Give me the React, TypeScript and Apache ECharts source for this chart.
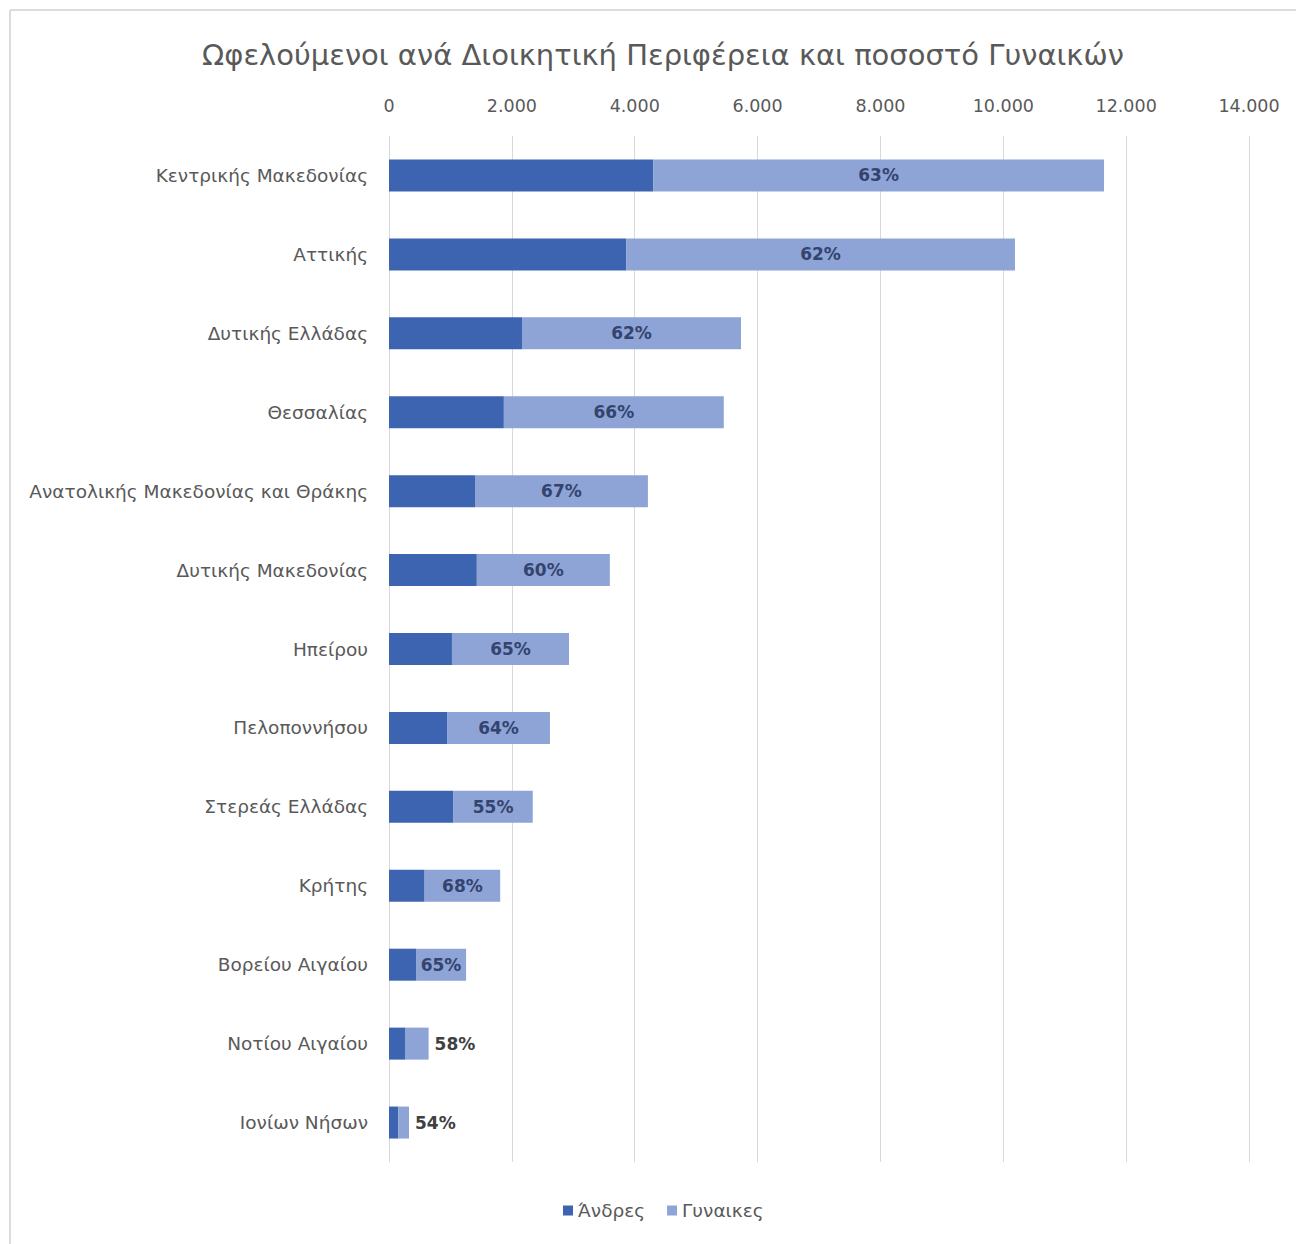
import React, { useEffect, useRef } from "react";
import * as echarts from "echarts";

const categories = [
  "Κεντρικής Μακεδονίας",
  "Αττικής",
  "Δυτικής Ελλάδας",
  "Θεσσαλίας",
  "Ανατολικής Μακεδονίας και Θράκης",
  "Δυτικής Μακεδονίας",
  "Ηπείρου",
  "Πελοποννήσου",
  "Στερεάς Ελλάδας",
  "Κρήτης",
  "Βορείου Αιγαίου",
  "Νοτίου Αιγαίου",
  "Ιονίων Νήσων",
];
const men = [4300, 3860, 2165, 1870, 1400, 1430, 1025, 945, 1050, 580, 440, 270, 150];
const women = [7340, 6330, 3565, 3580, 2815, 2165, 1905, 1675, 1290, 1230, 815, 375, 176];
const womenPct = ["63%", "62%", "62%", "66%", "67%", "60%", "65%", "64%", "55%", "68%", "65%", "58%", "54%"];
const outsideLabel = [false, false, false, false, false, false, false, false, false, false, false, true, true];
const seriesNames = ["Άνδρες", "Γυναικες"];
const xTicks = [0, 2000, 4000, 6000, 8000, 10000, 12000, 14000];

const FONT = "'DejaVu Sans', 'Noto Sans', sans-serif";

export default function App() {
  const ref = useRef<HTMLDivElement>(null);
  useEffect(() => {
    if (!ref.current) return;
    const chart = echarts.init(ref.current, undefined, { renderer: "svg" });
    const fmt = (v: number) => String(v).replace(/\B(?=(\d{3})+(?!\d))/g, ".");
    chart.setOption({
      animation: false,
      backgroundColor: "#ffffff",
      textStyle: { fontFamily: FONT },
      title: {
        text: "Ωφελούμενοι ανά Διοικητική Περιφέρεια και ποσοστό Γυναικών",
        left: 658,
        textAlign: "center",
        top: 35,
        textStyle: { fontFamily: FONT, fontSize: 29, fontWeight: "normal", color: "#595959" },
      },
      legend: {
        bottom: 19,
        left: 558,
        itemWidth: 10,
        itemHeight: 10,
        itemGap: 22,
        icon: "rect",
        textStyle: { fontFamily: FONT, fontSize: 18.5, color: "#595959" },
        data: seriesNames,
      },
      grid: { left: 389, right: 47, top: 136, bottom: 82, containLabel: false },
      xAxis: {
        type: "value",
        position: "top",
        min: xTicks[0],
        max: xTicks[xTicks.length - 1],
        interval: 2000,
        axisLine: { show: false },
        axisTick: { show: false },
        axisLabel: {
          color: "#595959",
          fontSize: 17.5,
          fontFamily: FONT,
          margin: 21,
          formatter: (v: number) => fmt(v),
        },
        splitLine: { show: true, lineStyle: { color: "#d9d9d9", width: 1 } },
      },
      yAxis: {
        type: "category",
        inverse: true,
        data: categories,
        axisLine: { show: false },
        axisTick: { show: false },
        axisLabel: { color: "#595959", fontSize: 18.5, fontFamily: FONT, margin: 21 },
      },
      graphic: [
        { type: "line", shape: { x1: 10, y1: 10, x2: 1296, y2: 10 }, style: { stroke: "#dcdcdc", lineWidth: 2 } },
        { type: "line", shape: { x1: 10, y1: 10, x2: 10, y2: 1244 }, style: { stroke: "#dcdcdc", lineWidth: 2 } },
      ],
      series: [
        {
          name: seriesNames[0],
          type: "bar",
          stack: "total",
          barWidth: 32,
          itemStyle: { color: "#3c64b0" },
          data: men,
        },
        {
          name: seriesNames[1],
          type: "bar",
          stack: "total",
          barWidth: 32,
          itemStyle: { color: "#8ea3d6" },
          data: women.map((v, i) => ({
            value: v,
            label: outsideLabel[i]
              ? { position: "right", distance: 6, color: "#404040" }
              : { position: "inside", color: "#34446e" },
          })),
          label: {
            show: true,
            fontFamily: FONT,
            fontSize: 17,
            fontWeight: "bold",
            formatter: (p: any) => womenPct[p.dataIndex],
          },
        },
      ],
    });
    return () => chart.dispose();
  }, []);
  return (
    <div
      ref={ref}
      style={{ position: "fixed", left: 0, top: 0, width: 1296, height: 1244 }}
    />
  );
}
